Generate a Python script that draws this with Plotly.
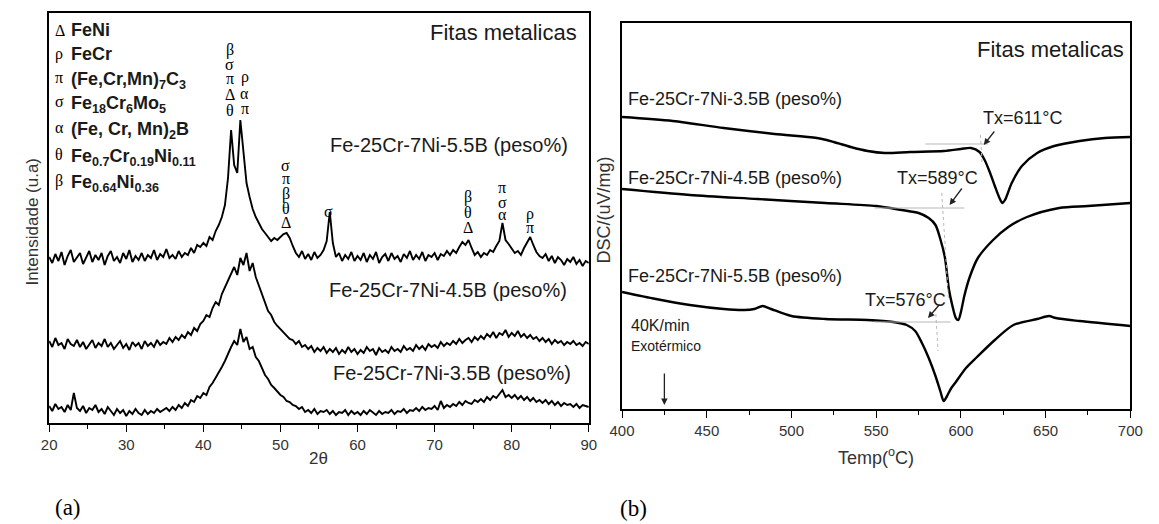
import plotly.graph_objects as go

W, H = 1159, 524

# ---------------- Panel (a): XRD ----------------
two_theta_start, two_theta_step, n_pts = 20.0, 0.4, 176
two_theta = [round(two_theta_start + two_theta_step * k, 1) for k in range(n_pts)]

xrd_55 = [166,160,169,162,171,158,167,173,161,166,
          170,159,165,172,161,168,163,170,158,167,
          172,162,166,160,170,164,173,161,167,163,
          170,162,168,165,173,163,169,166,174,165,
          168,164,172,166,170,168,175,170,178,176,
          180,177,186,183,192,198,206,218,245,293,
          258,250,303,272,240,226,214,206,200,194,
          190,186,182,185,183,186,189,190,185,177,
          170,166,172,164,169,163,171,165,168,173,
          182,211,180,166,170,162,168,164,171,162,
          167,163,170,161,168,164,171,160,166,169,
          162,170,164,167,161,169,165,172,163,168,
          164,171,162,168,166,170,163,169,167,172,
          168,173,170,176,181,178,183,175,168,171,
          166,170,168,173,171,177,182,200,183,179,
          174,170,172,168,175,181,186,178,171,167,
          165,169,162,167,160,166,163,158,164,161,
          166,159,163,157,162,160]

xrd_45 = [82,76,85,78,80,74,84,79,77,83,
          76,81,74,79,83,75,80,77,84,76,
          80,74,78,82,75,79,73,81,77,80,
          74,82,77,80,76,83,78,81,79,85,
          81,86,83,88,85,91,88,95,92,99,
          102,108,106,115,121,118,129,136,142,150,
          156,148,165,158,170,152,160,146,138,128,
          120,112,108,101,97,94,90,88,84,83,
          79,82,76,78,74,77,71,75,72,76,
          70,74,71,75,69,73,70,76,71,74,
          69,73,70,76,72,74,68,75,71,73,
          70,76,72,74,71,77,73,75,72,78,
          74,77,73,79,76,78,75,81,77,80,
          78,82,79,84,80,83,85,81,86,83,
          87,84,89,86,91,85,90,88,93,86,
          90,87,92,86,89,85,88,84,86,82,
          85,81,84,79,83,80,82,78,81,79,
          82,78,80,77,81,79]

xrd_35 = [17,12,19,14,16,11,18,13,30,15,
          12,17,10,15,13,18,11,14,9,16,
          12,8,14,10,13,7,12,9,14,10,
          8,13,9,12,10,14,11,13,15,12,
          16,13,18,15,20,17,23,21,27,25,
          30,28,36,40,45,51,56,62,70,76,
          82,78,94,81,86,74,76,66,62,55,
          48,44,38,35,31,28,26,22,21,18,
          17,14,16,11,13,10,14,9,12,11,
          13,9,12,8,11,10,13,8,12,9,
          11,8,12,9,13,10,8,12,9,11,
          10,13,9,12,11,14,10,13,12,15,
          12,16,13,15,14,17,13,22,15,18,
          16,19,17,21,18,22,20,19,23,21,
          24,21,26,23,27,25,29,33,26,28,
          25,28,24,27,23,26,22,25,21,23,
          20,23,19,22,18,21,17,20,18,19,
          16,19,15,18,17,16]

xrd_labels = ["Fe-25Cr-7Ni-5.5B (peso%)", "Fe-25Cr-7Ni-4.5B (peso%)", "Fe-25Cr-7Ni-3.5B (peso%)"]

# phase identification stacks above the 5.5B peaks
peak_2theta = [43.45, 45.35, 50.7, 56.3, 74.3, 78.8, 82.4]
peak_letters = [["β", "σ", "π", "Δ", "θ"], ["ρ", "α", "π"], ["σ", "π", "β", "θ", "Δ"],
                ["σ"], ["β", "θ", "Δ"], ["π", "σ", "α"], ["ρ", "π"]]
peak_letter_heights = [[373, 359, 345, 329, 313], [346, 330, 315], [258, 245, 229, 215, 201],
                       [212], [226, 211, 196], [236, 221, 209], [209, 196]]

phase_symbols = ["Δ", "ρ", "π", "σ", "α", "θ", "β"]
phase_names = ["FeNi", "FeCr", "(Fe,Cr,Mn)<sub>7</sub>C<sub>3</sub>",
               "Fe<sub>18</sub>Cr<sub>6</sub>Mo<sub>5</sub>", "(Fe, Cr, Mn)<sub>2</sub>B",
               "Fe<sub>0.7</sub>Cr<sub>0.19</sub>Ni<sub>0.11</sub>",
               "Fe<sub>0.64</sub>Ni<sub>0.36</sub>"]

# ---------------- Panel (b): DSC ----------------
dsc35_T = [400,430,460,490,515,525,535,545,555,570,590,600,606,611,614,617,620,623,624.5,626,630,636,645,655,670,685,700]
dsc35_v = [292,288,281,275,271,267,262,258,256,257,258,260,261,257,249,237,223,210,206,209,226,243,256,263,268,271,272]

dsc45_T = [400,440,480,520,550,565,575,581,585,588,590.5,593,595,597,598.5,600,602,605,610,619,628,639,658,675,700]
dsc45_v = [220,214,210,206,203,199,196,191,184,169,152,119,103,91,89,97,113,131,151,169,182,192,201,203,206]

dsc55_T = [400,420,440,460,472,478,483,488,500,520,545,560,568,573,577,581,585,588,589.8,591.5,594,597,603,609.5,620,631,645,652,656,670,700]
dsc55_v = [117,110,104,100,99,100,103,100,93,90,89,87,84,78,66,51,33,17,8,12,20,27,41,52,69,84,90,93,91,88,83]

dsc_labels = ["Fe-25Cr-7Ni-3.5B (peso%)", "Fe-25Cr-7Ni-4.5B (peso%)", "Fe-25Cr-7Ni-5.5B (peso%)"]
tx_labels = ["Tx=611°C", "Tx=589°C", "Tx=576°C"]

# onset tangent construction lines (temperature, DSC value)
tan_h_T = [[579, 616], [549, 602], [549, 594]]
tan_h_v = [[265, 265], [201, 201], [87, 87]]
tan_v_T = [[611.5, 612.5], [588.7, 592.7], [585.0, 586.5]]
tan_v_v = [[274, 247], [216, 109], [101, 58]]

# onset arrows: head (T, v) and tail (T, v)
arrow_head_T = [613.5, 593.3, 580.6]
arrow_head_v = [264, 204, 91]
arrow_tail_T = [620.4, 601.2, 588.1]
arrow_tail_v = [279, 222, 106]

exo_arrow_T = 425
exo_arrow_v = [37, 4]

# ---------------- figure ----------------
fig = go.Figure()

for y in (xrd_55, xrd_45, xrd_35):
    fig.add_trace(go.Scatter(x=two_theta, y=y, mode="lines", xaxis="x", yaxis="y",
                             line=dict(color="black", width=1.9), showlegend=False,
                             hoverinfo="skip"))

for T, v in ((dsc35_T, dsc35_v), (dsc45_T, dsc45_v), (dsc55_T, dsc55_v)):
    fig.add_trace(go.Scatter(x=T, y=v, mode="lines", xaxis="x2", yaxis="y2",
                             line=dict(color="black", width=2.4, shape="spline", smoothing=0.8),
                             showlegend=False, hoverinfo="skip"))

for i in range(3):
    fig.add_trace(go.Scatter(x=tan_h_T[i], y=tan_h_v[i], mode="lines", xaxis="x2", yaxis="y2",
                             line=dict(color="#b8b8b8", width=1), showlegend=False, hoverinfo="skip"))
    fig.add_trace(go.Scatter(x=tan_v_T[i], y=tan_v_v[i], mode="lines", xaxis="x2", yaxis="y2",
                             line=dict(color="#b8b8b8", width=1, dash="dot"), showlegend=False,
                             hoverinfo="skip"))

SANS = "Liberation Sans, Arial, sans-serif"
SERIF = "Liberation Serif, Times New Roman, serif"
TXT = "#1a1a1a"


def P(px, py):
    return px / W, 1 - py / H


ann = []


def text_px(px, py, text, size, xanchor="left", family=SANS, color=TXT, angle=0):
    x, y = P(px, py)
    ann.append(dict(x=x, y=y, xref="paper", yref="paper", text=text, showarrow=False,
                    xanchor=xanchor, yanchor="middle", textangle=angle,
                    font=dict(family=family, size=size, color=color)))


# panel a texts
text_px(579, 33, "Fitas metalicas", 22, xanchor="right")
label_a_y = [145, 290, 373]
label_a_x = [322, 321, 325]
for s, px, py in zip(xrd_labels, label_a_x, label_a_y):
    text_px(px, py, s, 20)

legend_y = [30, 54, 80, 105, 130, 157, 184]
for sym, name, py in zip(phase_symbols, phase_names, legend_y):
    sub = "<sub>" in name
    text_px(41, py - (3 if sub else 0), sym, 16, family=SERIF, color="black")
    text_px(57, py, "<b>" + name + "</b>", 18)

for x0, letters, hs in zip(peak_2theta, peak_letters, peak_letter_heights):
    for L, h in zip(letters, hs):
        ann.append(dict(x=x0, y=h, xref="x", yref="y", text=L, showarrow=False,
                        xanchor="center", yanchor="middle",
                        font=dict(family=SERIF, size=16, color="black")))

# axis titles panel a
text_px(19, 222, "Intensidade (u.a)", 17, xanchor="center", color="#333", angle=-90)
text_px(313, 458, "2θ", 17, xanchor="center", color="#333")
text_px(56, 507, "(a)", 23, xanchor="center", family=SERIF, color="black")

# panel b texts
text_px(1139, 50, "Fitas metalicas", 22, xanchor="right")
for s, py in zip(dsc_labels, [99, 178, 276]):
    text_px(627, py, s, 18)
for s, px, py in zip(tx_labels, [990, 902, 870], [118, 178, 300]):
    text_px(px, py, s, 18)
text_px(630, 325, "40K/min", 16)
text_px(630, 346, "Exotérmico", 14)

text_px(605, 210, "DSC/(uV/mg)", 18, xanchor="center", color="#333", angle=-90)
text_px(883, 456, "Temp(<sup>o</sup>C)", 18, xanchor="center", color="#333")
text_px(635, 508, "(b)", 23, xanchor="center", family=SERIF, color="black")

for i in range(3):
    ann.append(dict(x=arrow_head_T[i], y=arrow_head_v[i], ax=arrow_tail_T[i], ay=arrow_tail_v[i],
                    xref="x2", yref="y2", axref="x2", ayref="y2", text="", showarrow=True,
                    arrowhead=2, arrowsize=1, arrowwidth=1.3, arrowcolor="#222"))
ann.append(dict(x=exo_arrow_T, y=exo_arrow_v[1], ax=exo_arrow_T, ay=exo_arrow_v[0],
                xref="x2", yref="y2", axref="x2", ayref="y2", text="", showarrow=True,
                arrowhead=2, arrowsize=1, arrowwidth=1.3, arrowcolor="#222"))

axis_common = dict(showline=True, linecolor="black", linewidth=1.6, mirror=True,
                   showgrid=False, zeroline=False)

fig.update_layout(
    width=W, height=H, margin=dict(l=0, r=0, t=0, b=0),
    paper_bgcolor="white", plot_bgcolor="white",
    xaxis=dict(domain=[37 / W, 589 / W], anchor="y", range=[20, 90], dtick=10, tick0=20,
               ticks="outside", ticklen=7, tickwidth=1.3, tickcolor="black",
               minor=dict(ticks="outside", ticklen=4, dtick=5, tick0=20, tickcolor="black"),
               tickfont=dict(family=SANS, size=15, color="#333"), **axis_common),
    yaxis=dict(domain=[1 - 423 / H, 1 - 13 / H], anchor="x", range=[0, 410],
               showticklabels=False, ticks="", **axis_common),
    xaxis2=dict(domain=[623 / W, 1143 / W], anchor="y2", range=[400, 700], dtick=50, tick0=400,
                ticks="outside", ticklen=7, tickwidth=1.3, tickcolor="black",
                minor=dict(ticks="outside", ticklen=4, dtick=25, tick0=400, tickcolor="black"),
                tickfont=dict(family=SANS, size=15, color="#333"), **axis_common),
    yaxis2=dict(domain=[1 - 409 / H, 1 - 23 / H], anchor="x2", range=[0, 386],
                showticklabels=False, ticks="", **axis_common),
    annotations=ann,
)

fig.write_html("out.html")
